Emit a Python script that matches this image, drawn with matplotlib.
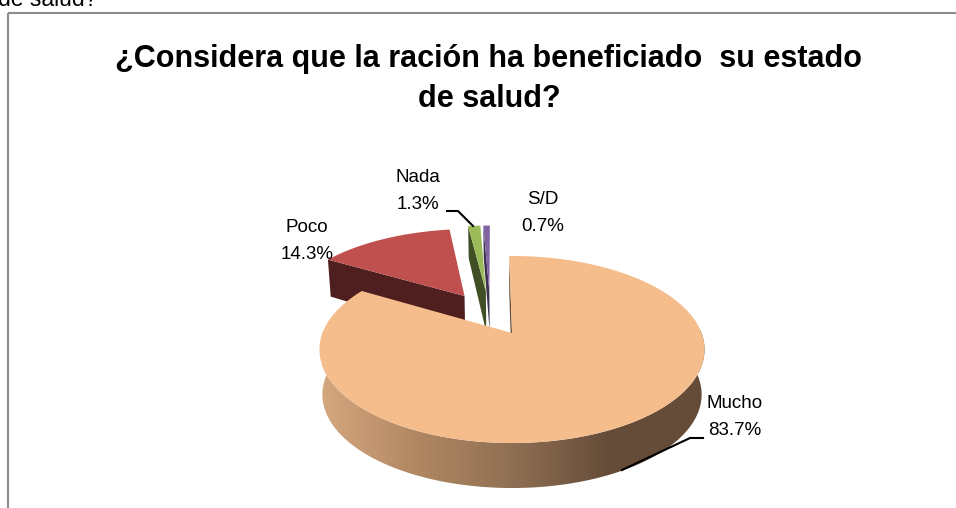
import numpy as np
import matplotlib
matplotlib.use("Agg")
from matplotlib import pyplot as plt
from matplotlib.colors import LinearSegmentedColormap
from matplotlib.patches import Polygon, Rectangle

plt.rcParams["font.family"] = ["Liberation Sans", "DejaVu Sans"]

# data
labels = ["Mucho", "Poco", "Nada", "S/D"]
values = [83.7, 14.3, 1.3, 0.7]
title = "¿Considera que la ración ha beneficiado  su estado\nde salud?"
caption = "de salud?"

# styles
topColors = ["#f6bd8c", "#c0504d", "#9bbb59", "#8064a2"]
wallColors = ["#654c38", "#4f1f1f", "#414f25", "#3f3251"]
offsets = [(0.0, 0.0), (-0.27, 0.44), (-0.15, 0.50), (-0.13, 0.50)]
labelPos = [(735, 417), (307, 241), (418, 191), (543, 213)]
sideCmap = LinearSegmentedColormap.from_list(
    "side", ["#d5a77f", "#b08762", "#8f6f53", "#654c38", "#654c38"])

# pixel geometry of the pie plane
cx, cy, rx, ry, persp = 512.0, 333.0, 189.5, 90.6, 0.1765
startAngle = -1.0


def project(X, Y, lower = False):
    X, Y = np.asarray(X, float), np.asarray(Y, float)
    s = 1.0 / (1.0 + persp * Y)
    x = cx + rx * X * s
    y = cy - ry * Y * s
    if lower:
        x = cx + (x - cx) * 0.985
        y = y + 45.0 - 8.5 * np.clip(Y, 0, None)
    return x, y


def rim(a0, a1, n = 120):
    t = np.radians(np.linspace(a0, a1, n))
    return np.sin(t), np.cos(t)


fig = plt.figure(figsize = (9.56, 5.08), dpi = 100)
ax = fig.add_axes([0, 0, 1, 1])

edges = startAngle + np.concatenate([[0], np.cumsum(values)]) * 3.6

# cut walls, back slices first
for i in [1, 2, 3, 0]:
    ox, oy = offsets[i]
    a = edges[i]
    X = np.array([ox, ox + np.sin(np.radians(a))])
    Y = np.array([oy, oy + np.cos(np.radians(a))])
    x1, y1 = project(X, Y)
    x2, y2 = project(X, Y, lower = True)
    ax.fill(np.r_[x1, x2[::-1]], np.r_[y1, y2[::-1]], color = wallColors[i], lw = 0)

# tops of small slices
for i in [1, 2, 3]:
    ox, oy = offsets[i]
    X, Y = rim(edges[i], edges[i + 1])
    x, y = project(np.r_[ox, ox + X], np.r_[oy, oy + Y])
    ax.fill(x, y, color = topColors[i], lw = 0)

# outer wall of big slice with gradient
X, Y = rim(70, 290, 300)
x1, y1 = project(X, Y)
x2, y2 = project(X, Y, lower = True)
wall = Polygon(np.c_[np.r_[x1, x2[::-1]], np.r_[y1, y2[::-1]]], closed = True,
               fc = "none", ec = "none", transform = ax.transData)
ax.add_patch(wall)
grad = ax.imshow(np.linspace(0, 1, 256).reshape(1, -1), cmap = sideCmap, aspect = "auto",
                 extent = (x2.min(), x1.max(), 520, 330))
grad.set_clip_path(wall)

# top of big slice
X, Y = rim(edges[0], edges[1], 400)
x, y = project(np.r_[0, X], np.r_[0, Y])
ax.fill(x, y, color = topColors[0], lw = 0)

# leader lines
ax.plot([447, 458, 473], [211, 211, 226], color = "black", lw = 1.5, solid_joinstyle = "miter")
ax.plot([703, 690, 622], [438, 438, 470], color = "black", lw = 1.5, solid_joinstyle = "miter")

# labels
for name, val, (lx, ly) in zip(labels, values, labelPos):
    ax.text(lx, ly, f"{name}\n{val:.1f}%", ha = "center", va = "center",
            fontsize = 13.5, linespacing = 1.7, color = "black")

ax.text(489, 79, title, ha = "center", va = "center", fontsize = 22,
        fontweight = "bold", linespacing = 1.45)
ax.text(-2, -1, caption, ha = "left", va = "center", fontsize = 16.5)

# chart frame
ax.add_patch(Rectangle((8.5, 12.5), 960, 520, fc = "none", ec = "#8c8c8c", lw = 1.5))

ax.set_xlim(0, 956)
ax.set_ylim(508, 0)
ax.axis("off")

fig.savefig("out.png", dpi = 100)
